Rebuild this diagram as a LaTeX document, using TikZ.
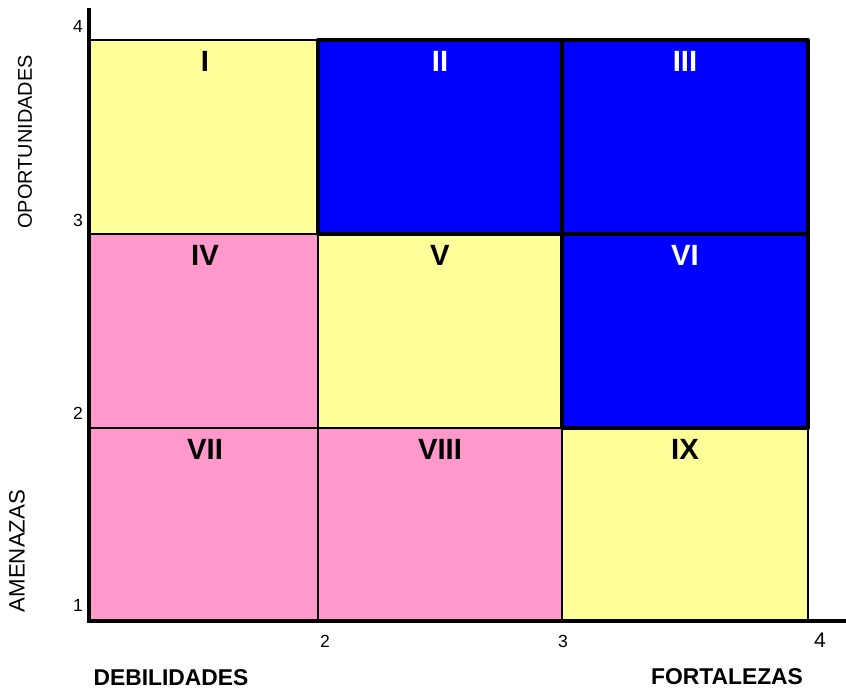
\documentclass[tikz,border=0pt]{standalone}
\usepackage{fontspec}
\setmainfont{Liberation Sans}
\definecolor{amarillo}{HTML}{FFFF99}
\definecolor{rosa}{HTML}{FF99CC}
\definecolor{azul}{HTML}{0000FF}
\tikzset{
  cuadro/.style={font=\bfseries\fontsize{25}{25}\selectfont, inner sep=0pt},
  marca/.style={font=\fontsize{15}{15}\selectfont, inner sep=0pt},
  eje/.style={line width=4.2pt},
  rejilla/.style={line width=2.5pt},
}
\begin{document}
\begin{tikzpicture}[x=0.03cm, y=-0.03cm, line join=round]
	\useasboundingbox (0,0) rectangle (846,692);
	\def \xa{89} \def \xb{318} \def \xc{562} \def \xd{808}
	\def \ya{40} \def \yb{234} \def \yc{428} \def \yd{621}
	% cuadrantes
	\fill[amarillo] (\xa,\ya) rectangle (\xb,\yb);
	\fill[azul] (\xb,\ya) rectangle (\xd,\yb);
	\fill[rosa] (\xa,\yb) rectangle (\xb,\yd);
	\fill[amarillo] (\xb,\yb) rectangle (\xc,\yc);
	\fill[azul] (\xc,\yb) rectangle (\xd,\yc);
	\fill[rosa] (\xb,\yc) rectangle (\xc,\yd);
	\fill[amarillo] (\xc,\yc) rectangle (\xd,\yd);
	\draw[rejilla] (\xa,\ya) -- (\xd,\ya) (\xa,\yb) -- (\xd,\yb) (\xa,\yc) -- (\xd,\yc);
	\draw[rejilla] (\xb,\ya) -- (\xb,\yd) (\xc,\ya) -- (\xc,\yd) (\xd,\ya) -- (\xd,\yd);
	\draw[line width=3.4pt] (\xb,\ya) rectangle (\xd,\yb) (\xc,\yb) rectangle (\xd,\yc) (\xc,\ya) -- (\xc,\yc);
	% ejes
	\draw[eje] (\xa,8) -- (\xa,\yd);
	\draw[line width=3.6pt] (87,\yd) -- (846,\yd);
	% numeros romanos
	\node[cuadro] (c1) at (205,61) {I};
	\node[cuadro, white] (c2) at (440,61) {II};
	\node[cuadro, white] (c3) at (685,61) {III};
	\node[cuadro] (c4) at (205,255) {IV};
	\node[cuadro] (c5) at (440,255) {V};
	\node[cuadro, white] (c6) at (685,255) {VI};
	\node[cuadro] (c7) at (205,449) {VII};
	\node[cuadro] (c8) at (440,449) {VIII};
	\node[cuadro] (c9) at (685,449) {IX};
	% marcas de los ejes
	\node[marca] (y4) at (78,26) {4};
	\node[marca] (y3) at (78,220) {3};
	\node[marca] (y2) at (78,413) {2};
	\node[marca] (y1) at (78,605) {1};
	\node[marca] (x2) at (325,641) {2};
	\node[marca] (x3) at (563,641) {3};
	\node[marca, font=\fontsize{18}{18}\selectfont] (x4) at (820,640) {4};
	% titulos
	\node[rotate=90, inner sep=0pt, font=\fontsize{17}{17}\selectfont] (opor) at (25,142) {OPORTUNIDADES};
	\node[rotate=90, inner sep=0pt, font=\fontsize{19}{19}\selectfont] (amen) at (17,551) {AMENAZAS};
	\node[inner sep=0pt, font=\bfseries\fontsize{19.5}{19.5}\selectfont] (debi) at (171,678) {DEBILIDADES};
	\node[inner sep=0pt, font=\bfseries\fontsize{19.5}{19.5}\selectfont] (fort) at (727,677) {FORTALEZAS};
\end{tikzpicture}
\end{document}
